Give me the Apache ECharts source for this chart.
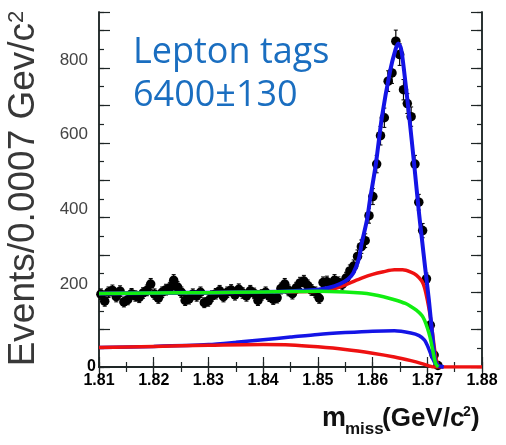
<!DOCTYPE html>
<html>
<head>
<meta charset="utf-8">
<script src="https://cdn.jsdelivr.net/npm/echarts@6/dist/echarts.min.js"></script>
<style>html,body{margin:0;padding:0;background:#fff}#c{width:506px;height:445px}</style>
</head>
<body>
<div id="c"></div>
<script>
// ---- data ----
const binStart = 1.81;
const binWidth = 0.0007;
// events per bin (bins 0..88), beyond that ~0
const counts = [
  195,176,200,205,188,203,174,180,196,190,
  186,198,205,222,195,184,200,207,212,232,
  214,200,178,182,195,190,200,172,176,190,
  196,204,188,200,206,193,208,198,190,204,
  197,178,193,200,189,181,185,210,222,205,
  196,212,225,230,218,206,200,184,226,228,
  214,232,226,221,238,257,270,296,322,338,
  405,456,543,619,667,765,787,872,836,742,
  705,670,543,441,365,236,112,32,4
];
// fit components: [m, events]
const fitTotal = [[1.81,197],[1.82,198],[1.83,199],[1.84,201],[1.845,203],[1.85,207],[1.852,212],[1.854,222],[1.8555,235],[1.8565,252],[1.8575,290],[1.858,330],[1.859,395],[1.8595,445],[1.8606,543],[1.8617,668],[1.8632,792],[1.8642,850],[1.8647,866],[1.8652,852],[1.8657,800],[1.8667,670],[1.8676,543],[1.8685,410],[1.869,345],[1.8696,267],[1.8703,178],[1.8709,89],[1.8714,20],[1.872,4],[1.873,0]];
const fitGreen = [[1.81,197],[1.82,198],[1.83,199],[1.84,201],[1.845,202],[1.85,203],[1.855,201],[1.858,198],[1.86,194],[1.862,188],[1.864,180],[1.866,170],[1.867,162],[1.868,152],[1.869,138],[1.8695,125],[1.87,105],[1.8705,80],[1.871,45],[1.8715,10],[1.872,0]];
const fitRedUpper = [[1.81,197],[1.83,199],[1.84,201],[1.85,203],[1.852,206],[1.854,214],[1.856,226],[1.858,238],[1.86,248],[1.862,255],[1.864,260],[1.8655,260],[1.867,254],[1.868,246],[1.869,230],[1.8695,212],[1.87,180],[1.8705,140],[1.871,85],[1.8715,30],[1.872,0]];
const fitBlueLower = [[1.81,52],[1.82,55],[1.83,60],[1.835,66],[1.84,73],[1.845,80],[1.85,87],[1.855,92],[1.86,96],[1.864,97],[1.867,91],[1.8685,84],[1.8695,72],[1.87,58],[1.8705,40],[1.871,22],[1.8715,8],[1.872,0]];
const fitRedLower = [[1.81,52],[1.82,55],[1.83,58],[1.84,60],[1.845,59],[1.85,54],[1.855,47],[1.86,37],[1.864,27],[1.867,17],[1.869,9],[1.8705,2],[1.871,0],[1.88,0]];
const yLabels = [0, 200, 400, 600, 800];

// ---- chart ----
const pts = counts.map((c, i) => [binStart + (i + 0.5) * binWidth, c]);
const errs = counts.map((c, i) => [binStart + (i + 0.5) * binWidth, c, Math.sqrt(c)]);
const frame = '#1e2626';

function xAx(pos, len, minor, labels) {
  return {
    type: 'value', position: pos, min: 1.81, max: 1.88, interval: minor ? 0.005 : 0.01,
    axisLine: {show: true, lineStyle: {color: frame, width: 1.5}},
    axisTick: {show: true, inside: true, length: len, lineStyle: {color: frame, width: 1.2}},
    axisLabel: labels ? {show: true, margin: 6, color: '#000', fontFamily: 'Liberation Sans', fontWeight: 'bold', fontSize: 16,
      formatter: v => v.toFixed(2)} : {show: false},
    splitLine: {show: false}
  };
}
function yAx(pos, len, interval, labels) {
  return {
    type: 'value', position: pos, min: 0, max: 950, interval: interval,
    axisLine: {show: true, lineStyle: {color: frame, width: 1.5}},
    axisTick: {show: true, inside: true, length: len, lineStyle: {color: frame, width: 1.2}},
    axisLabel: labels ? {show: true, margin: 3,
      formatter: v => yLabels.indexOf(Math.round(v)) < 0 ? '' : (v === 0 ? '{z|0}' : '{g|' + Math.round(v) + '}'),
      rich: {
        z: {color: '#000', fontFamily: 'Liberation Sans', fontWeight: 'bold', fontSize: 16},
        g: {color: '#444', fontFamily: 'Liberation Sans', fontSize: 17, padding: [0, 8, 16, 0]}
      }} : {show: false},
    splitLine: {show: false}
  };
}
const line = (data, color, w, z) => ({type: 'line', data: data, showSymbol: false, symbol: 'none', smooth: 0.25,
  lineStyle: {color: color, width: w}, z: z, silent: true, animation: false, clip: true});

const chart = echarts.init(document.getElementById('c'), null, {renderer: 'canvas'});
chart.setOption({
  animation: false,
  backgroundColor: '#fff',
  grid: {left: 99, right: 24, top: 12, bottom: 78},
  xAxis: [xAx('bottom', 10, false, true), xAx('bottom', 5, true, false), xAx('top', 10, false, false), xAx('top', 5, true, false)],
  yAxis: [yAx('left', 5, 50, true), yAx('left', 11, 100, false), yAx('right', 5, 50, false), yAx('right', 11, 100, false)],
  series: [
    {type: 'custom', data: errs, z: 2, silent: true,
      renderItem: (params, api) => {
        const x = api.value(0), y = api.value(1), e = api.value(2);
        const t = api.coord([x, y + e]), b = api.coord([x, y - e]);
        return {type: 'group', children: [
          {type: 'line', shape: {x1: t[0], y1: t[1], x2: b[0], y2: b[1]}, style: {stroke: '#000', lineWidth: 1.2}},
          {type: 'line', shape: {x1: t[0] - 2, y1: t[1], x2: t[0] + 2, y2: t[1]}, style: {stroke: '#000', lineWidth: 1}},
          {type: 'line', shape: {x1: b[0] - 2, y1: b[1], x2: b[0] + 2, y2: b[1]}, style: {stroke: '#000', lineWidth: 1}}
        ]};
      }},
    {type: 'scatter', data: pts, symbol: 'circle', symbolSize: 9.5, itemStyle: {color: '#000', opacity: 1}, z: 3, silent: true},
    line(fitBlueLower, '#1414e6', 3.5, 4),
    line(fitRedLower, '#ee1111', 3.5, 5),
    line(fitRedUpper, '#ee1111', 3.5, 6),
    line(fitTotal, '#1414e6', 4, 7),
    line(fitGreen, '#11ee11', 3.5, 8)
  ],
  graphic: [
    {type: 'text', x: 133, y: 53, style: {text: 'Lepton tags', font: '36px "Open Sans"', fill: '#1a6ec0', textAlign: 'left', textVerticalAlign: 'middle'}},
    {type: 'text', x: 133, y: 96, style: {text: '6400\u00b1130', font: '36px "Open Sans"', fill: '#1a6ec0', textAlign: 'left', textVerticalAlign: 'middle'}},
    {type: 'text', x: 24, y: 188.5, rotation: Math.PI / 2, style: {
      text: 'Events/0.0007 Gev/c{s|2}', fontFamily: 'Liberation Sans', fontSize: 37, fill: '#383838',
      textAlign: 'center', textVerticalAlign: 'middle',
      rich: {s: {fontFamily: 'Liberation Sans', fontSize: 22, fill: '#383838', verticalAlign: 'top'}}}},
    {type: 'text', x: 322, y: 418.6, style: {text: 'm', font: 'bold 27px "Liberation Sans"', fill: '#111', textAlign: 'left', textVerticalAlign: 'middle'}},
    {type: 'text', x: 345, y: 429, style: {text: 'miss', font: 'bold 17px "Liberation Sans"', fill: '#111', textAlign: 'left', textVerticalAlign: 'middle'}},
    {type: 'text', x: 382, y: 419, style: {text: '(GeV/c', font: 'bold 26px "Liberation Sans"', fill: '#111', textAlign: 'left', textVerticalAlign: 'middle'}},
    {type: 'text', x: 463, y: 412, style: {text: '2', font: 'bold 14px "Liberation Sans"', fill: '#111', textAlign: 'left', textVerticalAlign: 'middle'}},
    {type: 'text', x: 471, y: 419, style: {text: ')', font: 'bold 26px "Liberation Sans"', fill: '#111', textAlign: 'left', textVerticalAlign: 'middle'}}
  ]
});
</script>
</body>
</html>
